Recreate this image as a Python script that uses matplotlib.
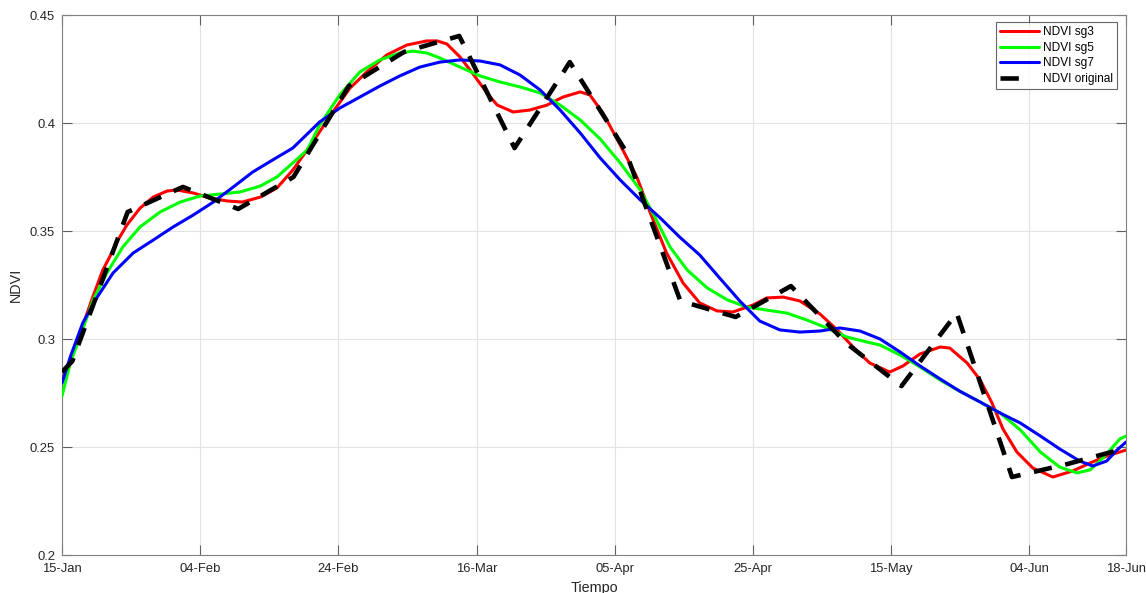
import datetime as dt
import numpy as np
import matplotlib
matplotlib.use("Agg")
import matplotlib.pyplot as plt
import matplotlib.dates as mdates
from matplotlib.ticker import FuncFormatter

# ---- data: days after 15-Jan-2019 and NDVI values ----
orig_days = [0, 1.5, 9.5, 17.5, 25.5, 33.5, 41.5, 49.5, 57.5, 65.5, 73.5,
             81.5, 89.5, 97.5, 105.5, 113.5, 121.5, 129.5, 137.5, 145.5, 154]
orig_ndvi = [0.2847, 0.2898, 0.3588, 0.3704, 0.3602, 0.3750, 0.4171, 0.4329,
             0.4403, 0.3884, 0.4282, 0.3875, 0.3176, 0.3102, 0.3245, 0.2981,
             0.2782, 0.3120, 0.2361, 0.2421, 0.2495]

sg3_days = [0, 1.45, 2.9, 4.3, 5.9, 6.9, 8.1, 9.4, 11.3, 13.2, 15.2, 16.6,
            19.0, 21.4, 23.9, 26.1, 28.7, 31.1, 33.4, 36.3, 39.2, 41.7, 44.1,
            47.0, 49.9, 52.8, 54.3, 55.7, 57.6, 59.5, 61.5, 63.0, 65.3, 67.7,
            70.2, 72.5, 75.0, 76.4, 78.3, 80.8, 83.2, 85.1, 87.5, 89.9, 92.3,
            94.8, 97.1, 100.0, 102.0, 104.4, 106.8, 109.7, 112.2, 114.5, 116.9,
            119.8, 121.7, 124.2, 127.1, 128.5, 131.0, 132.9, 134.6, 136.2,
            138.2, 140.5, 143.4, 146.3, 148.8, 151.2, 154]
sg3_ndvi = [0.2801, 0.2926, 0.3051, 0.3181, 0.3319, 0.3380, 0.3458, 0.3528,
            0.3606, 0.3657, 0.3685, 0.3690, 0.3676, 0.3653, 0.3639, 0.3634,
            0.3657, 0.3699, 0.3782, 0.3912, 0.4051, 0.4162, 0.4236, 0.4315,
            0.4361, 0.4380, 0.4380, 0.4366, 0.4306, 0.4227, 0.4139, 0.4083,
            0.4051, 0.4060, 0.4083, 0.4120, 0.4144, 0.4130, 0.4046, 0.3898,
            0.3750, 0.3588, 0.3398, 0.3259, 0.3167, 0.3130, 0.3125, 0.3157,
            0.3190, 0.3194, 0.3176, 0.3116, 0.3042, 0.2963, 0.2889, 0.2847,
            0.2875, 0.2931, 0.2963, 0.2958, 0.2889, 0.2810, 0.2704, 0.2583,
            0.2477, 0.2403, 0.2361, 0.2389, 0.2426, 0.2458, 0.2486]

sg5_days = [0, 1.2, 2.6, 4.5, 6.5, 8.8, 11.3, 14.2, 17.1, 20.0, 22.9, 25.8,
            28.7, 31.1, 33.4, 35.5, 37.3, 40.2, 43.1, 46.0, 48.9, 50.8, 52.8,
            54.7, 57.6, 60.5, 63.4, 66.3, 69.2, 72.1, 75.0, 77.9, 80.8, 83.7,
            85.8, 88.0, 90.5, 93.4, 96.3, 99.1, 102.0, 104.9, 107.8, 110.7,
            113.6, 116.5, 118.4, 121.3, 124.2, 127.1, 129.9, 132.9, 135.8,
            138.7, 141.6, 144.4, 146.9, 148.8, 150.2, 151.7, 153.1, 154]
sg5_ndvi = [0.2736, 0.2889, 0.3009, 0.3181, 0.3306, 0.3426, 0.3519, 0.3588,
            0.3634, 0.3662, 0.3671, 0.3681, 0.3708, 0.3750, 0.3815, 0.3875,
            0.3991, 0.4130, 0.4236, 0.4292, 0.4324, 0.4333, 0.4324, 0.4301,
            0.4259, 0.4218, 0.4190, 0.4167, 0.4139, 0.4083, 0.4014, 0.3926,
            0.3815, 0.3690, 0.3565, 0.3426, 0.3319, 0.3236, 0.3181, 0.3148,
            0.3134, 0.3120, 0.3088, 0.3051, 0.3009, 0.2986, 0.2972, 0.2926,
            0.2870, 0.2810, 0.2759, 0.2708, 0.2657, 0.2579, 0.2477, 0.2407,
            0.2380, 0.2394, 0.2435, 0.2486, 0.2537, 0.2551]

sg7_days = [0, 1.2, 3.0, 5.1, 7.4, 10.3, 13.2, 16.1, 19.0, 21.9, 24.8, 27.6,
            30.5, 33.4, 37.3, 40.2, 43.1, 46.0, 48.9, 51.8, 54.7, 57.6, 60.5,
            63.4, 66.3, 69.2, 72.1, 75.0, 77.9, 80.8, 83.7, 86.6, 89.4, 92.3,
            95.2, 98.1, 101.0, 103.9, 106.8, 109.7, 112.6, 115.5, 118.4,
            121.3, 124.2, 127.1, 129.9, 132.9, 135.8, 138.7, 141.6, 144.4,
            147.3, 149.2, 151.2, 152.7, 154]
sg7_ndvi = [0.2796, 0.2917, 0.3074, 0.3194, 0.3306, 0.3398, 0.3458, 0.3519,
            0.3574, 0.3634, 0.3704, 0.3773, 0.3829, 0.3884, 0.4005, 0.4069,
            0.4120, 0.4171, 0.4218, 0.4259, 0.4282, 0.4292, 0.4287, 0.4269,
            0.4222, 0.4153, 0.4060, 0.3954, 0.3838, 0.3736, 0.3644, 0.3560,
            0.3472, 0.3389, 0.3282, 0.3176, 0.3083, 0.3042, 0.3032, 0.3037,
            0.3051, 0.3037, 0.3000, 0.2940, 0.2875, 0.2815, 0.2759, 0.2708,
            0.2657, 0.2611, 0.2551, 0.2491, 0.2435, 0.2412, 0.2435, 0.2486,
            0.2523]

tick_dates = ["2019-01-15", "2019-02-04", "2019-02-24", "2019-03-16",
              "2019-04-05", "2019-04-25", "2019-05-15", "2019-06-04",
              "2019-06-18"]
y_ticks = [0.2, 0.25, 0.3, 0.35, 0.4, 0.45]

# ---- figure ----
plt.rcParams["font.family"] = ["Liberation Sans", "DejaVu Sans"]
fig = plt.figure(figsize=(11.46, 5.93), dpi=100)
ax = fig.add_axes([62 / 1146, 1 - 555 / 593, 1064 / 1146, 540 / 593])

t0 = mdates.date2num(dt.datetime(2019, 1, 15))


def to_x(days):
    return t0 + np.asarray(days, dtype=float)


smooth_kw = dict(lw=2.2, zorder=3, solid_joinstyle="round",
                 solid_capstyle="round")
ax.plot(to_x(sg3_days), sg3_ndvi, color=(1, 0, 0), label="NDVI sg3", **smooth_kw)
ax.plot(to_x(sg5_days), sg5_ndvi, color=(0, 1, 0), label="NDVI sg5", **smooth_kw)
ax.plot(to_x(sg7_days), sg7_ndvi, color=(0, 0, 1), label="NDVI sg7", **smooth_kw)
ax.plot(to_x(orig_days), orig_ndvi, color="black", lw=3.3, ls=(0, (4, 3)),
        label="NDVI original", zorder=4)

ticks = [mdates.date2num(dt.datetime.strptime(d, "%Y-%m-%d")) for d in tick_dates]
ax.set_xlim(ticks[0], ticks[-1])
ax.set_ylim(y_ticks[0], y_ticks[-1])
ax.set_xticks(ticks)
ax.xaxis.set_major_formatter(mdates.DateFormatter("%d-%b"))
ax.set_yticks(y_ticks)
ax.yaxis.set_major_formatter(FuncFormatter(lambda v, p: f"{v:g}"))

axis_col = "#262626"
for sp in ax.spines.values():
    sp.set_color("#808080")
    sp.set_linewidth(0.8)
ax.tick_params(direction="in", length=7, width=0.8, color="#606060",
               labelsize=9.4, labelcolor=axis_col, top=True, right=True)
ax.tick_params(axis="x", pad=6)
ax.tick_params(axis="y", pad=5)
ax.grid(True, color="#e3e3e3", lw=0.8)
ax.set_axisbelow(True)

ax.set_xlabel("Tiempo", fontsize=10.4, color=axis_col, labelpad=4)
ax.set_ylabel("NDVI", fontsize=10.4, color=axis_col, labelpad=5)

leg = ax.legend(loc="upper right", bbox_to_anchor=(1117 / 1146, 1 - 22 / 593),
                bbox_transform=fig.transFigure, fontsize=8.6, frameon=True,
                fancybox=False, handlelength=3.3, handletextpad=0.3,
                labelspacing=0.3, borderpad=0.35, borderaxespad=0)
leg.get_frame().set_edgecolor("#404040")
leg.get_frame().set_linewidth(0.8)
# the dashed entry shows a single short dash
leg.get_lines()[3].set_linestyle((0, (4, 12)))

fig.savefig("out.png", dpi=100)
